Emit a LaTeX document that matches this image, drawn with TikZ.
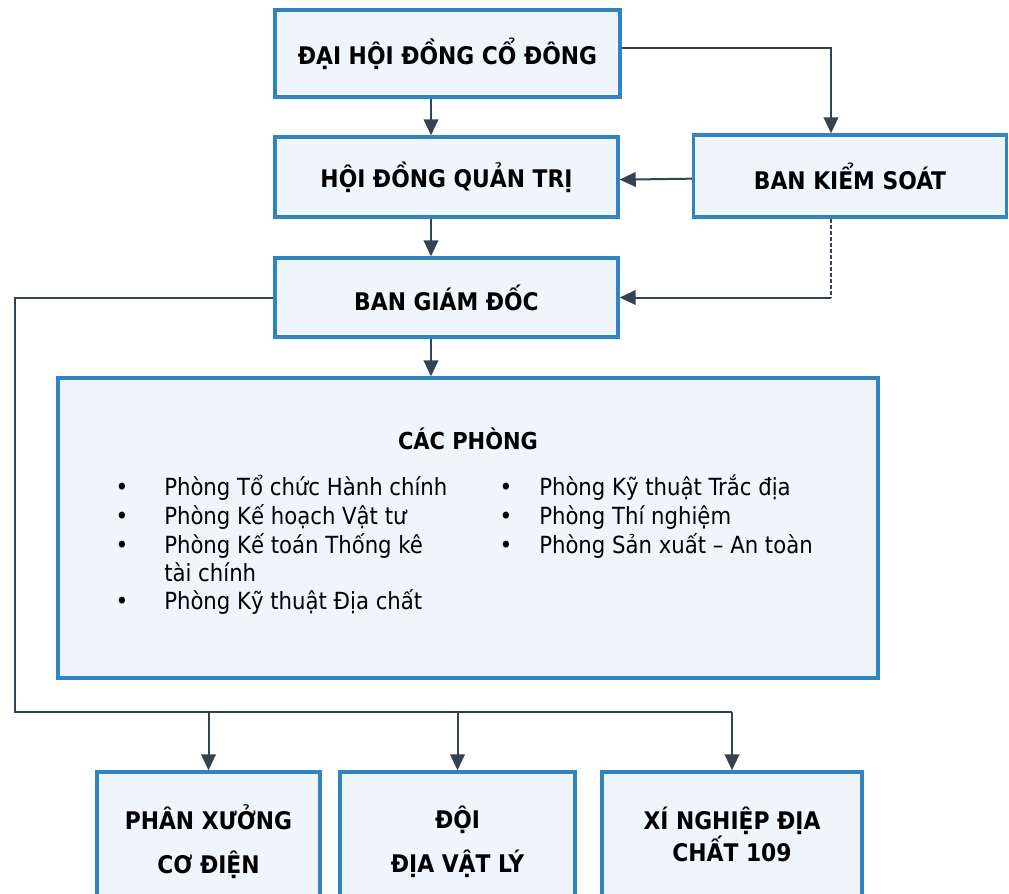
\documentclass[tikz,border=0pt]{standalone}
\usepackage{fontspec}
\setmainfont{DejaVu Sans Condensed}
\usetikzlibrary{arrows.meta}

\definecolor{boxblue}{RGB}{48,132,192}
\definecolor{boxfill}{RGB}{238,246,252}
\definecolor{linegray}{RGB}{52,66,82}

\tikzset{
  unit/.style={draw=boxblue, fill=boxfill, line width=2.6pt, align=center, inner sep=0pt,
    font=\bfseries\fontsize{18.2}{22}\selectfont},
  wire/.style={draw=linegray, line width=1.5pt},
  link/.style={wire, -{Triangle[length=12pt,width=11pt]}},
  item/.style={anchor=base west, inner sep=0pt, font=\fontsize{17.7}{21}\selectfont},
  dot/.style={anchor=base, inner sep=0pt, font=\fontsize{18}{21}\selectfont},
}

\begin{document}
\begin{tikzpicture}[x=0.75pt,y=0.75pt,yscale=-1]
\useasboundingbox (0,0) rectangle (1009,893);
\clip (0,0) rectangle (1009,893);

%helper coordinates
\coordinate (trunk) at (431,0);
\coordinate (ks) at (831,0);
\coordinate (busL) at (15,712);

%boxes
\node[unit, minimum width=258.75pt, minimum height=65.25pt] (dhcd) at (447.5,53.5) {ĐẠI HỘI ĐỒNG CỔ ĐÔNG};
\node[unit, minimum width=257.25pt, minimum height=60pt] (hdqt) at (446.5,177) {HỘI ĐỒNG QUẢN TRỊ};
\node[unit, minimum width=234.75pt, minimum height=61.5pt] (bks) at (850,176) {BAN KIỂM SOÁT};
\node[unit, minimum width=257.25pt, minimum height=59.25pt] (bgd) at (446.5,297.5) {BAN GIÁM ĐỐC};
\node[unit, minimum width=615pt, minimum height=225pt] (phong) at (468,528) {};
\node[unit, minimum width=167.25pt, minimum height=105pt] (pxcd) at (208.5,842) {PHÂN XƯỞNG\\[11pt]CƠ ĐIỆN};
\node[unit, minimum width=176.25pt, minimum height=105pt] (dvl) at (457.5,842) {ĐỘI\\[11pt]ĐỊA VẬT LÝ};
\node[unit, minimum width=195pt, minimum height=93pt] (xn) at (732,834) {XÍ NGHIỆP ĐỊA\\CHẤT 109};

%list of departments
\node[anchor=base, inner sep=0pt, font=\bfseries\fontsize{17.5}{21}\selectfont] (phongtitle) at (468,449) {CÁC PHÒNG};
\foreach \txt/\y [count=\i] in {Phòng Tổ chức Hành chính/495, Phòng Kế hoạch Vật tư/524,
    Phòng Kế toán Thống kê/553, Phòng Kỹ thuật Địa chất/609} {
  \node[dot] (bl\i) at (122,\y) {•};
  \node[item] (l\i) at (164,\y) {\txt};
}
\node[item] (l3b) at (164,581) {tài chính};
\foreach \txt/\y [count=\i] in {Phòng Kỹ thuật Trắc địa/495, Phòng Thí nghiệm/524,
    Phòng Sản xuất – An toàn/553} {
  \node[dot] (br\i) at (506,\y) {•};
  \node[item] (r\i) at (539,\y) {\txt};
}

%connectors
\draw[link] (dhcd.south -| trunk) -- (hdqt.north -| trunk);
\draw[link] ([yshift=-4.5pt]dhcd.east) -| (bks.north -| ks);
\draw[link] ([yshift=2pt]bks.west) -- ([yshift=2pt]hdqt.east);
\draw[link] (hdqt.south -| trunk) -- (bgd.north -| trunk);
\draw[wire, dash pattern=on 3pt off 1.5pt] (bks.south -| ks) -- (ks |- bgd.east);
\draw[link] (ks |- bgd.east) -- (bgd.east);
\draw[link] (bgd.south -| trunk) -- (phong.north -| trunk);
\draw[wire] (bgd.west) -| (busL) -- (xn.north |- busL);
\draw[link] (pxcd.north |- busL) -- (pxcd.north);
\draw[link] (dvl.north |- busL) -- (dvl.north);
\draw[link] (xn.north |- busL) -- (xn.north);

\end{tikzpicture}
\end{document}
